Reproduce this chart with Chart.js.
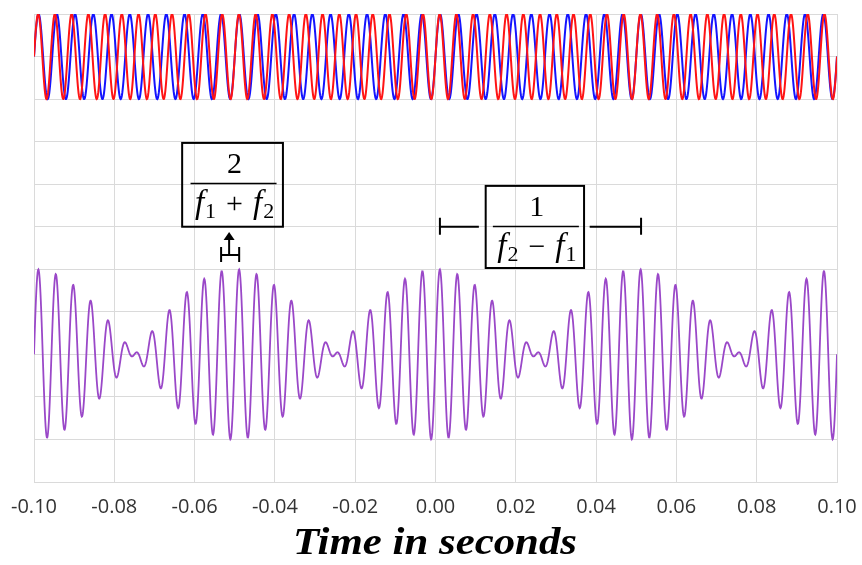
<!DOCTYPE html>
<html><head><meta charset="utf-8">
<script src="https://cdn.jsdelivr.net/npm/chart.js@4"></script>
<style>html,body{margin:0;padding:0;background:#fff}</style>
</head><body>
<canvas id="c" width="862" height="565"></canvas>
<script>
// ---- data ----
const timeRange = [-0.10, 0.10];           // seconds
const xTickValues = [-0.10, -0.08, -0.06, -0.04, -0.02, 0.00, 0.02, 0.04, 0.06, 0.08, 0.10];
const xTickLabels = ['-0.10', '-0.08', '-0.06', '-0.04', '-0.02', '0.00', '0.02', '0.04', '0.06', '0.08', '0.10'];
const yRange = [-3, 8];
const toneNames = ['f1 (blue)', 'f2 (red)'];
const toneFreqHz = [220, 240];            // f1, f2
const toneAmp = [1, 1];
const toneBaseline = [7, 7];               // both tones drawn on the upper band
const beatBaseline = [0];                  // sum drawn on the lower band
const sampleStep = [0.0001];
const xAxisTitle = ['Time in seconds'];

// sample the tones and their sum
const nSamples = Math.round((timeRange[1] - timeRange[0]) / sampleStep[0]);
const times = [];
for (let i = 0; i <= nSamples; i++) times.push(timeRange[0] + i * sampleStep[0]);
const tone = k => times.map(t => ({x: t, y: toneBaseline[k] + toneAmp[k] * Math.sin(2 * Math.PI * toneFreqHz[k] * t)}));
const beat = times.map(t => ({x: t, y: beatBaseline[0] +
  toneAmp[0] * Math.sin(2 * Math.PI * toneFreqHz[0] * t) + toneAmp[1] * Math.sin(2 * Math.PI * toneFreqHz[1] * t)}));

const GRID = '#dadada';

const annot = {
  id: 'annot',
  afterDraw(chart) {
    const c = chart.ctx, xs = chart.scales.x, ys = chart.scales.y;
    const X = v => xs.getPixelForValue(v), Y = v => ys.getPixelForValue(v);
    c.save();
    c.strokeStyle = '#000'; c.fillStyle = '#000';
    // fraction boxes
    function box(x0, x1, y0, y1, num, den) {
      const l = X(x0), r = X(x1), t = Y(y1), b = Y(y0);
      c.lineWidth = 2;
      c.strokeRect(l, t, r - l, b - t);
      const cx = (l + r) / 2;
      c.textAlign = 'center'; c.textBaseline = 'alphabetic';
      c.font = '30px "Liberation Serif"';
      c.fillText(num, cx + 2, t + 30);
      c.lineWidth = 1.5;
      c.beginPath(); c.moveTo(cx - 42, t + 40.5); c.lineTo(cx + 44, t + 40.5); c.stroke();
      // denominator pieces: [text, style, extra gap after]
      const fonts = {i: 'italic 33px "Liberation Serif"', s: '22px "Liberation Serif"', r: '30px "Liberation Serif"'};
      let w = 0;
      den.forEach(p => { c.font = fonts[p[1]]; p.w = c.measureText(p[0]).width + (p[2] || 0); w += p.w; });
      let x = cx - w / 2 + 2;
      c.textAlign = 'left';
      den.forEach(p => { c.font = fonts[p[1]]; c.fillText(p[0], x, t + 70 + (p[1] === 's' ? 5 : 0)); x += p.w; });
    }
    box(-0.0631, -0.038, 3.0, 4.97, '2', [['f', 'i', 1], ['1', 's', 10], ['+', 'r', 10], ['f', 'i', 1], ['2', 's']]);
    box(0.0125, 0.037, 2.03, 3.96, '1', [['f', 'i', 1], ['2', 's', 10], ['\u2212', 'r', 10], ['f', 'i', 1], ['1', 's']]);
    // small bracket with arrow (carrier period)
    c.lineWidth = 2;
    const a0 = X(-0.0534), a1 = X(-0.0489), ay = 255, am = (a0 + a1) / 2 - 1;
    c.beginPath();
    c.moveTo(a0, ay); c.lineTo(a1, ay);
    c.moveTo(a0, ay - 8); c.lineTo(a0, ay + 7);
    c.moveTo(a1, ay - 8); c.lineTo(a1, ay + 7);
    c.moveTo(am, ay); c.lineTo(am, 238);
    c.stroke();
    c.beginPath(); c.moveTo(am, 232); c.lineTo(am - 5.5, 240); c.lineTo(am + 5.5, 240); c.closePath(); c.fill();
    // long bracket (beat period)
    const b0 = X(0.0011), b1 = X(0.0512), by = Y(3.0);
    c.beginPath();
    c.moveTo(b0, by); c.lineTo(X(0.0108), by);
    c.moveTo(X(0.0384), by); c.lineTo(b1, by);
    c.moveTo(b0, by - 9); c.lineTo(b0, by + 8);
    c.moveTo(b1, by - 9); c.lineTo(b1, by + 8);
    c.stroke();
    // axis title
    c.font = 'bold italic 37px "Liberation Serif"';
    c.textAlign = 'left';
    const tw = c.measureText(xAxisTitle[0]).width, target = 284;
    c.translate(293, 554);
    c.scale(target / tw, 1);
    c.fillText(xAxisTitle[0], 0, 0);
    c.restore();
  }
};

new Chart(document.getElementById('c'), {
  type: 'line',
  data: {
    datasets: [
      {label: toneNames[0], data: tone(0), borderColor: '#1414ff', borderWidth: 2, order: 2},
      {label: toneNames[1], data: tone(1), borderColor: '#ff1414', borderWidth: 2, order: 1},
      {label: 'f1 + f2', data: beat, borderColor: '#9a48c8', borderWidth: 1.8, order: 0}
    ]
  },
  options: {
    responsive: false, animation: false,
    parsing: false, normalized: true,
    elements: {point: {radius: 0}, line: {tension: 0.001}},
    layout: {padding: {left: 34, right: 25, top: 14, bottom: 0}},
    plugins: {legend: {display: false}, tooltip: {enabled: false}},
    scales: {
      x: {
        type: 'linear', min: timeRange[0], max: timeRange[1],
        afterBuildTicks: s => { s.ticks = xTickValues.map(v => ({value: v})); },
        ticks: {callback: (v, i) => xTickLabels[i], font: {family: 'Open Sans', size: 20}, color: '#333',
                padding: 13, maxRotation: 0, autoSkip: false},
        grid: {color: GRID, drawTicks: false},
        border: {color: GRID},
        afterFit: s => { s.height = 83; s.paddingLeft = 0; s.paddingRight = 0; }
      },
      y: {
        type: 'linear', min: yRange[0], max: yRange[1],
        ticks: {display: false, stepSize: 1},
        grid: {color: GRID, drawTicks: false},
        border: {color: GRID},
        afterFit: s => { s.width = 0; }
      }
    }
  },
  plugins: [annot]
});
</script>
</body></html>
